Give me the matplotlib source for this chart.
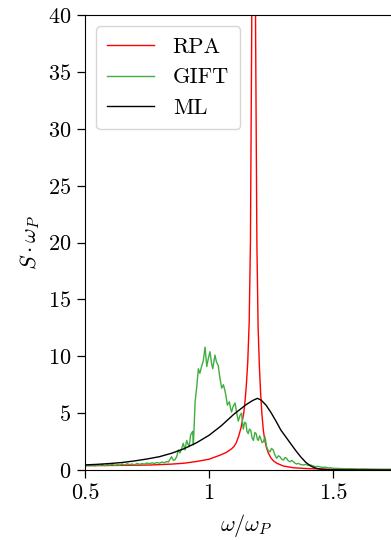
import matplotlib
matplotlib.use("Agg")
import matplotlib.pyplot as plt
import numpy as np

plt.rcParams["font.family"] = "serif"
plt.rcParams["font.serif"] = ["cmr10", "DejaVu Serif"]
plt.rcParams["mathtext.fontset"] = "cm"
plt.rcParams["axes.formatter.use_mathtext"] = True
plt.rcParams["font.size"] = 16

# RPA response (peak runs off the top of the axes)
rpa_w = [0.5, 0.6, 0.7, 0.762, 0.85, 0.9, 0.95, 1.0, 1.044, 1.07, 1.09, 1.10,
         1.11, 1.12, 1.13, 1.14, 1.145, 1.15, 1.156, 1.162, 1.167, 1.172, 1.176,
         1.18, 1.184, 1.188, 1.193, 1.198, 1.203, 1.208, 1.213, 1.219, 1.225,
         1.232, 1.239, 1.25, 1.26, 1.273, 1.3, 1.34, 1.4, 1.5, 1.6, 1.75]
rpa_s = [0.38, 0.4, 0.42, 0.44, 0.52, 0.6, 0.75, 0.95, 1.3, 1.55, 1.85, 2.05,
         2.4, 3.0, 3.8, 5.0, 6.0, 7.3, 9.4, 13, 20, 38, 58,
         68, 58, 38, 20, 12.5, 9.2, 6.8, 5.0, 3.5, 2.6,
         1.95, 1.5, 1.05, 0.8, 0.6, 0.35, 0.2, 0.12, 0.07, 0.05, 0.04]

# GIFT simulation
gift_w = [0.50, 0.51, 0.52, 0.53, 0.54, 0.55, 0.56, 0.57, 0.58, 0.59, 0.60,
          0.61, 0.62, 0.63, 0.64, 0.65, 0.66, 0.67, 0.68, 0.69, 0.70, 0.71,
          0.72, 0.73, 0.74, 0.75, 0.76, 0.77, 0.78, 0.79, 0.80, 0.81, 0.82,
          0.83, 0.836, 0.843, 0.849, 0.856, 0.863, 0.87, 0.876, 0.883, 0.89,
          0.896, 0.903, 0.91, 0.915, 0.92, 0.926, 0.934, 0.937, 0.944, 0.95,
          0.957, 0.963, 0.97, 0.977, 0.984, 0.991, 0.997, 1.004, 1.01, 1.015,
          1.02, 1.024, 1.03, 1.037, 1.044, 1.051, 1.058, 1.065, 1.07, 1.074,
          1.082, 1.087, 1.091, 1.096, 1.1, 1.105, 1.111, 1.118, 1.125, 1.131,
          1.138, 1.144, 1.149, 1.153, 1.158, 1.163, 1.168, 1.174, 1.179, 1.185,
          1.19, 1.195, 1.199, 1.204, 1.208, 1.214, 1.219, 1.226, 1.232, 1.239,
          1.246, 1.252, 1.259, 1.266, 1.273, 1.28, 1.286, 1.293, 1.3, 1.307,
          1.313, 1.32, 1.327, 1.334, 1.34, 1.347, 1.353, 1.36, 1.37, 1.38,
          1.39, 1.40, 1.41, 1.42, 1.43, 1.44, 1.45, 1.46, 1.47, 1.48, 1.49,
          1.50, 1.52, 1.54, 1.56, 1.58, 1.60, 1.62, 1.65, 1.68, 1.71, 1.75]
gift_s = [0.35, 0.42, 0.38, 0.45, 0.36, 0.44, 0.40, 0.48, 0.38, 0.46, 0.42,
          0.50, 0.40, 0.47, 0.43, 0.52, 0.44, 0.55, 0.47, 0.53, 0.45, 0.58,
          0.50, 0.56, 0.52, 0.62, 0.55, 0.63, 0.58, 0.66, 0.60, 0.70, 0.64,
          0.75, 0.70, 0.95, 1.17, 0.85, 0.90, 1.2, 1.76, 1.5, 1.9,
          2.35, 1.76, 2.6, 2.3, 2.05, 3.1, 3.4, 2.2, 6.0, 7.2,
          8.9, 8.5, 9.1, 9.6, 10.8, 9.1, 9.8, 10.4, 9.4, 8.9,
          9.6, 10.1, 9.5, 9.2, 8.1, 7.2, 7.5, 6.9, 6.3, 5.7,
          6.0, 5.4, 5.1, 5.5, 5.7, 5.9, 5.1, 4.3, 4.8, 5.0,
          3.6, 4.2, 4.1, 3.4, 3.2, 3.6, 3.5, 2.8, 2.6, 3.3,
          3.2, 2.7, 2.6, 3.0, 2.8, 2.4, 2.5, 2.9, 2.05, 1.7,
          1.6, 1.9, 1.76, 1.3, 1.03, 1.25, 1.17, 0.95, 0.88, 1.1,
          1.03, 0.8, 0.73, 0.85, 0.73, 0.6, 0.53, 0.58, 0.48, 0.44,
          0.5, 0.40, 0.44, 0.35, 0.30, 0.32, 0.26, 0.23, 0.25, 0.18, 0.2,
          0.15, 0.14, 0.12, 0.1, 0.11, 0.08, 0.09, 0.07, 0.06, 0.06, 0.05]

# machine-learning prediction
ml_w = [0.5, 0.55, 0.6, 0.65, 0.7, 0.75, 0.8, 0.85, 0.9, 0.95, 1.0, 1.05,
        1.1, 1.15, 1.175, 1.195, 1.21, 1.23, 1.25, 1.27, 1.29, 1.32, 1.35,
        1.37, 1.39, 1.41, 1.43, 1.45, 1.48, 1.5, 1.75]
ml_s = [0.45, 0.5, 0.57, 0.66, 0.8, 0.97, 1.17, 1.48, 1.88, 2.4, 3.05, 3.9,
        4.9, 5.75, 6.1, 6.3, 6.15, 5.7, 5.05, 4.3, 3.5, 2.6, 1.7,
        1.15, 0.68, 0.35, 0.16, 0.07, 0.02, 0.01, 0.0]

x_ticks = [0.5, 1.0, 1.5]
x_ticklabels = ["0.5", "1", "1.5"]
y_ticks = [0, 5, 10, 15, 20, 25, 30, 35, 40]

fig = plt.figure(figsize=(3.91, 5.40), dpi=100)
# right spine sits past the figure edge, so the x range is cut at ~1.73
ax = fig.add_axes([0.2174, 0.1296, 0.8246, 0.8426])

ax.plot(rpa_w, rpa_s, color="red", lw=1.0, label="RPA")
ax.plot(gift_w, gift_s, color="#3fae3f", lw=1.0, label="GIFT")
ax.plot(ml_w, ml_s, color="black", lw=1.0, label="ML")

ax.set_xlim(0.5, 1.8)
ax.set_ylim(0, 40)
ax.set_xticks(x_ticks)
ax.set_xticklabels(x_ticklabels)
ax.set_yticks(y_ticks)
ax.tick_params(direction="out", length=6, width=0.9, labelsize=16, pad=4)
ax.set_xlabel(r"$\omega/\omega_P$", fontsize=16, labelpad=6)
ax.set_ylabel(r"$S\cdot\omega_P$", fontsize=16, labelpad=4)

ax.legend(loc="upper left", fontsize=16, handlelength=2.1, handletextpad=0.85,
          labelspacing=0.5, borderpad=0.5, borderaxespad=0.5, framealpha=0.8)

fig.savefig("out.png", dpi=100)
